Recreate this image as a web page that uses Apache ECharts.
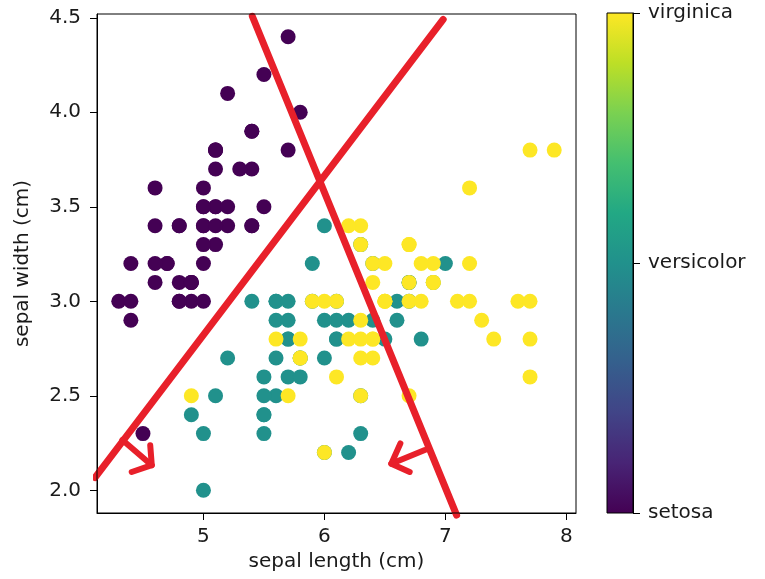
<!DOCTYPE html>
<html>
<head>
<meta charset="utf-8">
<script src="https://cdn.jsdelivr.net/npm/echarts@6/dist/echarts.min.js"></script>
<style>
  html, body { margin: 0; padding: 0; background: #fff; }
  #chart { width: 765px; height: 579px; }
</style>
</head>
<body>
<div id="chart"></div>
<script>
// iris sepal measurements, [length, width] per flower
const setosaPoints = [
  [5.1,3.5],[4.9,3.0],[4.7,3.2],[4.6,3.1],[5.0,3.6],[5.4,3.9],[4.6,3.4],[5.0,3.4],[4.4,2.9],[4.9,3.1],
  [5.4,3.7],[4.8,3.4],[4.8,3.0],[4.3,3.0],[5.8,4.0],[5.7,4.4],[5.4,3.9],[5.1,3.5],[5.7,3.8],[5.1,3.8],
  [5.4,3.4],[5.1,3.7],[4.6,3.6],[5.1,3.3],[4.8,3.4],[5.0,3.0],[5.0,3.4],[5.2,3.5],[5.2,3.4],[4.7,3.2],
  [4.8,3.1],[5.4,3.4],[5.2,4.1],[5.5,4.2],[4.9,3.1],[5.0,3.2],[5.5,3.5],[4.9,3.1],[4.4,3.0],[5.1,3.4],
  [5.0,3.5],[4.5,2.3],[4.4,3.2],[5.0,3.5],[5.1,3.8],[4.8,3.0],[5.1,3.8],[4.6,3.2],[5.3,3.7],[5.0,3.3]
];
const versicolorPoints = [
  [7.0,3.2],[6.4,3.2],[6.9,3.1],[5.5,2.3],[6.5,2.8],[5.7,2.8],[6.3,3.3],[4.9,2.4],[6.6,2.9],[5.2,2.7],
  [5.0,2.0],[5.9,3.0],[6.0,2.2],[6.1,2.9],[5.6,2.9],[6.7,3.1],[5.6,3.0],[5.8,2.7],[6.2,2.2],[5.6,2.5],
  [5.9,3.2],[6.1,2.8],[6.3,2.5],[6.1,2.8],[6.4,2.9],[6.6,3.0],[6.8,2.8],[6.7,3.0],[6.0,2.9],[5.7,2.6],
  [5.5,2.4],[5.5,2.4],[5.8,2.7],[6.0,2.7],[5.4,3.0],[6.0,3.4],[6.7,3.1],[6.3,2.3],[5.6,3.0],[5.5,2.5],
  [5.5,2.6],[6.1,3.0],[5.8,2.6],[5.0,2.3],[5.6,2.7],[5.7,3.0],[5.7,2.9],[6.2,2.9],[5.1,2.5],[5.7,2.8]
];
const virginicaPoints = [
  [6.3,3.3],[5.8,2.7],[7.1,3.0],[6.3,2.9],[6.5,3.0],[7.6,3.0],[4.9,2.5],[7.3,2.9],[6.7,2.5],[7.2,3.6],
  [6.5,3.2],[6.4,2.7],[6.8,3.0],[5.7,2.5],[5.8,2.8],[6.4,3.2],[6.5,3.0],[7.7,3.8],[7.7,2.6],[6.0,2.2],
  [6.9,3.2],[5.6,2.8],[7.7,2.8],[6.3,2.7],[6.7,3.3],[7.2,3.2],[6.2,2.8],[6.1,3.0],[6.4,2.8],[7.2,3.0],
  [7.4,2.8],[7.9,3.8],[6.4,2.8],[6.3,2.8],[6.1,2.6],[7.7,3.0],[6.3,3.4],[6.4,3.1],[6.0,3.0],[6.9,3.1],
  [6.7,3.1],[6.9,3.1],[5.8,2.7],[6.8,3.2],[6.7,3.3],[6.7,3.0],[6.3,2.5],[6.5,3.0],[6.2,3.4],[5.9,3.0]
];

const speciesNames = ['setosa', 'versicolor', 'virginica'];
const xTicks = [5, 6, 7, 8];
const yTicks = [2.0, 2.5, 3.0, 3.5, 4.0, 4.5];
const colorbarTicks = [0, 1, 2];

// red hand-drawn annotations, in data units
const cutLineA = [[4.103, 2.067], [6.982, 4.491]];
const cutLineB = [[5.404, 4.508], [7.093, 1.869]];
const arrowAShaft = [[4.330, 2.266], [4.573, 2.133]];
const arrowAHead = [[4.560, 2.239], [4.573, 2.133], [4.407, 2.097]];
const arrowBShaft = [[6.830, 2.213], [6.553, 2.141]];
const arrowBHead = [[6.628, 2.248], [6.553, 2.141], [6.705, 2.097]];

const viridis = ['#440154', '#482475', '#414487', '#355f8d', '#2a788e', '#21918c',
                 '#22a884', '#44bf70', '#7ad151', '#bddf26', '#fde725'];
const speciesColors = [viridis[0], viridis[5], viridis[10]];

const FONT = 'DejaVu Sans';
const TEXT = '#1a1a1a';

const chart = echarts.init(document.getElementById('chart'), null, { renderer: 'canvas' });

function redStroke(data, width) {
  return {
    type: 'line', xAxisIndex: 0, yAxisIndex: 0,
    data: data, symbol: 'none', clip: false, z: 5,
    lineStyle: { color: '#e8202a', width: width, cap: 'round', join: 'round' },
    silent: true
  };
}

const option = {
  animation: false,
  backgroundColor: '#fff',
  textStyle: { fontFamily: FONT },
  grid: [
    { left: 97, top: 14, width: 479, height: 499, show: true, borderColor: '#000', borderWidth: 1, z: 10, backgroundColor: 'transparent' },
    { left: 607, top: 13, width: 26, height: 500, show: true, borderColor: '#000', borderWidth: 1, z: 10, backgroundColor: 'transparent' }
  ],
  xAxis: [
    {
      gridIndex: 0, type: 'value', min: 4.12, max: 8.08,
      name: 'sepal length (cm)', nameLocation: 'middle', nameGap: 34,
      nameTextStyle: { fontSize: 20, color: TEXT, fontFamily: FONT },
      axisLine: { show: true, onZero: false, lineStyle: { color: '#000', width: 1 } },
      axisTick: { show: true, length: 7, customValues: xTicks, lineStyle: { color: '#000' } },
      axisLabel: { customValues: xTicks, fontSize: 20, color: TEXT, margin: 14, fontFamily: FONT },
      splitLine: { show: false }
    },
    {
      gridIndex: 1, type: 'category', data: [''], show: false
    }
  ],
  yAxis: [
    {
      gridIndex: 0, type: 'value', min: 1.88, max: 4.52,
      name: 'sepal width (cm)', nameLocation: 'middle', nameGap: 64,
      nameTextStyle: { fontSize: 20, color: TEXT, fontFamily: FONT },
      axisLine: { show: true, onZero: false, lineStyle: { color: '#000', width: 1 } },
      axisTick: { show: true, length: 7, customValues: yTicks, lineStyle: { color: '#000' } },
      axisLabel: {
        customValues: yTicks, fontSize: 20, color: TEXT, margin: 16, fontFamily: FONT,
        formatter: v => v.toFixed(1)
      },
      splitLine: { show: false }
    },
    {
      gridIndex: 1, type: 'value', min: 0, max: 2, position: 'right',
      axisLine: { show: true, lineStyle: { color: '#000', width: 1 } },
      axisTick: { show: true, length: 7, customValues: colorbarTicks, lineStyle: { color: '#000' } },
      axisLabel: {
        customValues: colorbarTicks, fontSize: 20, color: TEXT, margin: 15, fontFamily: FONT,
        formatter: v => speciesNames[Math.round(v)]
      },
      splitLine: { show: false }
    }
  ],
  series: [
    {
      name: speciesNames[0], type: 'scatter', xAxisIndex: 0, yAxisIndex: 0,
      data: setosaPoints, symbolSize: 15, itemStyle: { color: speciesColors[0], opacity: 1 }
    },
    {
      name: speciesNames[1], type: 'scatter', xAxisIndex: 0, yAxisIndex: 0,
      data: versicolorPoints, symbolSize: 15, itemStyle: { color: speciesColors[1], opacity: 1 }
    },
    {
      name: speciesNames[2], type: 'scatter', xAxisIndex: 0, yAxisIndex: 0,
      data: virginicaPoints, symbolSize: 15, itemStyle: { color: speciesColors[2], opacity: 1 }
    },
    // colour bar
    {
      type: 'bar', xAxisIndex: 1, yAxisIndex: 1, data: [2],
      barWidth: '100%', barCategoryGap: 0, silent: true,
      itemStyle: {
        color: {
          type: 'linear', x: 0, y: 1, x2: 0, y2: 0,
          colorStops: viridis.map((c, i) => ({ offset: i / (viridis.length - 1), color: c }))
        }
      }
    },
    redStroke(cutLineA, 7),
    redStroke(cutLineB, 7),
    redStroke(arrowAShaft, 6),
    redStroke(arrowAHead, 6),
    redStroke(arrowBShaft, 6),
    redStroke(arrowBHead, 6)
  ]
};

chart.setOption(option);
</script>
</body>
</html>
